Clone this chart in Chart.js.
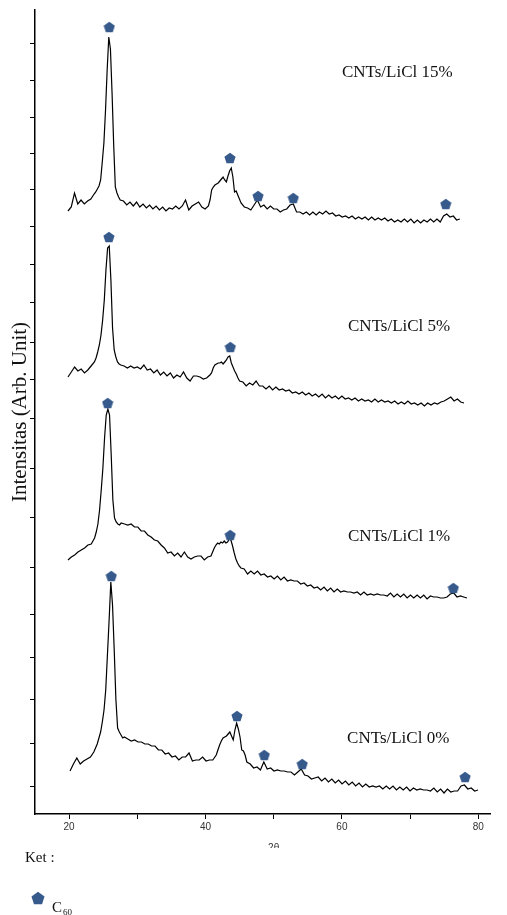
<!DOCTYPE html>
<html>
<head>
<meta charset="utf-8">
<script src="https://cdn.jsdelivr.net/npm/chart.js@4.4.1/dist/chart.umd.min.js"></script>
<style>
html,body{margin:0;padding:0;background:#fff;overflow:hidden}
canvas{display:block}
</style>
</head>
<body>
<canvas id="c" width="507" height="915"></canvas>
<script>
// ---------- DATA ----------
const twoTheta = [
  20,20.5,21,21.5,22,22.5,23,23.5,24,
  24.25,24.5,24.75,25,25.25,25.5,25.75,26,26.25,26.5,26.75,27,27.25,27.5,27.75,28,
  28.5,29,29.5,30,30.5,31,31.5,32,32.5,33,33.5,34,34.5,35,35.5,36,36.5,37,37.5,38,38.5,39,39.5,40,40.5,41,41.5,
  41.75,42,42.25,42.5,42.75,43,43.25,43.5,43.75,44,44.25,44.5,44.75,45,45.25,45.5,45.75,46,
  46.5,47,47.5,48,48.5,49,49.5,50,50.5,51,
  51.5,52,52.5,53,53.5,54,54.5,55,55.5,56,
  56.5,57,57.5,58,58.5,59,59.5,60,60.5,61,
  61.5,62,62.5,63,63.5,64,64.5,65,65.5,66,
  66.5,67,67.5,68,68.5,69,69.5,70,70.5,71,
  71.5,72,72.5,73,73.5,74,74.5,75,75.5,76,
  76.5,77,77.5,78,78.5,79,79.5,80
];

const intensity15 = [
  603,607,621,610,614,610,613,615,620,
  622,625,628,634,652,671,704,744,777,765,721,669,627,621,617,614,
  613,609,612,608,612,607,610,606,609,605,608,604,607,603,606,605,608,605,608,614,604,608,610,612,607,605,608,
  614,624,627,629,630,631,633,635,637,634,632,638,643,646,637,622,623,619,
  611,607,606,604,609,614,607,609,605,608,
  605,605,602,604,605,609,610,602,602,600,
  602,599,602,599,602,600,603,600,601,598,
  599,597,598,596,598,595,597,595,597,594,
  597,594,596,594,596,593,595,592,594,592,
  595,592,595,591,594,591,594,592,595,592,
  595,592,598,600,597,598,594,595
];

const intensity5 = [
  437,442,447,443,445,441,444,448,452,
  456,462,469,479,494,514,544,566,568,534,486,464,457,452,450,449,
  448,446,448,446,447,445,449,444,445,441,444,439,442,438,441,436,439,437,442,436,433,438,438,437,435,436,439,
  441,446,449,450,451,451,452,450,452,454,457,458,451,447,443,440,436,433,
  432,428,431,429,433,428,428,425,428,424,
  427,424,425,423,424,421,422,420,422,419,
  421,418,420,417,420,416,419,416,418,415,
  418,415,416,414,416,413,415,413,414,412,
  415,412,414,412,413,411,413,410,412,410,
  413,410,411,409,411,408,411,409,411,410,
  412,413,415,417,413,415,412,411
];

const intensity1 = [
  254,257,259,262,264,266,269,270,276,
  282,290,304,324,346,376,399,405,399,359,314,296,292,290,289,291,
  290,289,290,287,287,283,283,279,277,274,273,269,266,261,262,258,261,257,262,257,255,257,258,258,254,257,258,
  262,266,269,271,270,272,271,273,271,272,275,274,268,261,255,251,248,246,
  245,240,243,240,243,239,240,237,238,235,
  238,234,237,233,234,233,233,230,231,228,
  229,226,227,224,227,223,226,222,225,222,
  223,222,222,221,222,219,222,219,220,219,
  220,219,219,218,221,217,220,217,220,216,
  219,216,219,216,219,215,218,217,217,216,
  216,217,220,221,217,218,217,216
];

const intensity0 = [
  43,50,56,50,53,55,57,62,70,
  76,82,92,104,124,159,194,232,209,164,114,86,82,79,76,77,
  75,73,74,72,72,70,70,68,68,64,64,60,61,57,58,54,57,57,61,53,54,54,57,53,54,54,59,
  64,69,73,76,77,78,80,82,78,74,84,91,85,77,64,63,59,52,
  50,46,47,44,52,45,46,43,44,43,
  43,42,42,39,42,45,39,38,35,36,
  37,33,36,32,35,31,34,30,33,29,
  32,28,31,27,30,27,28,27,28,25,
  28,25,28,24,27,24,27,23,26,24,
  25,24,24,23,26,22,25,21,25,22,
  23,23,28,29,25,26,23,24
];

// C60 peak markers (2θ, intensity of marker)
const c60Theta15 = [26.32, 44.8, 49.1, 54.5, 77.85];
const c60Int15   = [787, 656, 618, 616, 610];
const c60Theta5  = [26.2, 44.6];
const c60Int5    = [577, 467];
const c60Theta1  = [25.97, 44.4, 77.95];
const c60Int1    = [411, 279, 226];
const c60Theta0  = [26.07, 44.55, 48.57, 54.15, 78.1];
const c60Int0    = [238, 98, 59, 50, 37];

const sampleNames = ['CNTs/LiCl 15%', 'CNTs/LiCl 5%', 'CNTs/LiCl 1%', 'CNTs/LiCl 0%'];
const xTickValues = [20, 30, 40, 50, 60, 70, 80];
const xTickLabels = [20, 40, 60, 80];
const yTickValues = [770, 734, 697, 661, 624, 588, 550, 512, 472, 434, 396, 346, 297, 247, 200, 157, 115, 71, 28];
const yTitle = 'Intensitas (Arb. Unit)';
const xTitle = '2θ';
const legendTitle = 'Ket :';
const legendName = ['C', '60'];

// ---------- RENDER ----------
const MARK = '#375a8c';
function pentagon(size, color) {
  const c = document.createElement('canvas');
  c.width = size; c.height = size;
  const g = c.getContext('2d');
  const r = size / 2, cx = size / 2, cy = size / 2 + size * 0.05;
  g.fillStyle = color;
  g.beginPath();
  for (let i = 0; i < 5; i++) {
    const a = -Math.PI / 2 + i * 2 * Math.PI / 5;
    const px = cx + r * 0.98 * Math.cos(a), py = cy + r * 0.98 * Math.sin(a);
    if (i === 0) g.moveTo(px, py); else g.lineTo(px, py);
  }
  g.closePath();
  g.fill();
  return c;
}
const markIcon = pentagon(12, MARK);
const legendIcon = pentagon(14, MARK);

const pts = (xs, ys) => xs.map((t, i) => ({ x: t, y: ys[i] }));
const lineDs = (label, vals, axis) => ({
  type: 'line', label, data: pts(twoTheta, vals), xAxisID: axis, yAxisID: 'y',
  borderColor: '#000', borderWidth: 1.2, pointRadius: 0, tension: 0, fill: false, order: 2
});
const markDs = (xs, ys, axis) => ({
  type: 'scatter', label: 'C60', data: pts(xs, ys), xAxisID: axis, yAxisID: 'y',
  pointStyle: markIcon, pointRadius: 6, showLine: false, order: 1
});
const hidden = (min, max) => ({ type: 'linear', display: false, min, max });

const annotations = {
  id: 'annotations',
  afterDraw(chart, args, opts) {
    const { ctx } = chart;
    const x = chart.scales.x, y = chart.scales.y;
    ctx.save();
    ctx.fillStyle = '#111';
    ctx.textAlign = 'left';
    ctx.textBaseline = 'middle';
    ctx.font = opts.labelFont;
    sampleNames.forEach((t, i) => {
      ctx.fillText(t, x.getPixelForValue(opts.labelAt[i][0]), y.getPixelForValue(opts.labelAt[i][1]));
    });
    // x axis title (clipped like the original)
    ctx.save();
    ctx.beginPath();
    ctx.rect(0, 0, chart.width, opts.xTitleClip);
    ctx.clip();
    ctx.fillStyle = '#333';
    ctx.font = opts.xTitleFont;
    ctx.textAlign = 'center';
    ctx.textBaseline = 'alphabetic';
    ctx.fillText(xTitle, x.getPixelForValue(opts.xTitleAt), opts.xTitleBaseline);
    ctx.restore();
    // legend
    ctx.fillStyle = '#111';
    ctx.textAlign = 'left';
    ctx.textBaseline = 'alphabetic';
    ctx.font = opts.legendFont;
    ctx.fillText(legendTitle, opts.legendX, opts.legendTitleY);
    ctx.drawImage(legendIcon, opts.iconX - legendIcon.width / 2, opts.iconY - legendIcon.height / 2);
    ctx.fillText(legendName[0], opts.nameX, opts.nameY);
    const w = ctx.measureText(legendName[0]).width;
    ctx.font = opts.subFont;
    ctx.fillText(legendName[1], opts.nameX + w + 1, opts.nameY + 3);
    ctx.restore();
  }
};

new Chart(document.getElementById('c'), {
  data: {
    datasets: [
      lineDs(sampleNames[0], intensity15, 'x15'),
      lineDs(sampleNames[1], intensity5, 'x5'),
      lineDs(sampleNames[2], intensity1, 'x1'),
      lineDs(sampleNames[3], intensity0, 'x0'),
      markDs(c60Theta15, c60Int15, 'x15'),
      markDs(c60Theta5, c60Int5, 'x5'),
      markDs(c60Theta1, c60Int1, 'x1'),
      markDs(c60Theta0, c60Int0, 'x0')
    ]
  },
  options: {
    responsive: false,
    animation: false,
    devicePixelRatio: 1,
    layout: { padding: { left: 0, right: 17, top: 10, bottom: 0 } },
    plugins: {
      legend: { display: false },
      tooltip: { enabled: false },
      annotations: {
        labelFont: '17px "Liberation Serif"',
        labelAt: [[60.0, 741], [60.9, 487], [60.9, 277], [60.76, 75]],
        xTitleFont: '10px "Liberation Sans"',
        xTitleAt: 50,
        xTitleBaseline: 851,
        xTitleClip: 848,
        legendFont: '15px "Liberation Serif"',
        subFont: '9px "Liberation Serif"',
        legendX: 25, legendTitleY: 862,
        iconX: 38, iconY: 898,
        nameX: 52, nameY: 912
      }
    },
    scales: {
      x: {
        type: 'linear', position: 'bottom', min: 15.0, max: 81.72,
        afterBuildTicks: s => { s.ticks = xTickValues.map(v => ({ value: v })); },
        afterFit: s => { s.height = 101; },
        ticks: {
          color: '#333', padding: 2, maxRotation: 0, autoSkip: false,
          font: { family: 'Liberation Sans', size: 10 },
          callback: v => xTickLabels.includes(v) ? String(v) : ''
        },
        grid: { drawOnChartArea: false, drawTicks: true, tickLength: 5, color: '#000', lineWidth: 1 },
        border: { display: true, color: '#000', width: 1.5 }
      },
      x15: hidden(14.95, 84.62),
      x5: hidden(15.0, 83.94),
      x1: hidden(15.04, 83.46),
      x0: hidden(14.85, 81.76),
      y: {
        type: 'linear', position: 'left', min: 0, max: 804,
        afterBuildTicks: s => { s.ticks = yTickValues.map(v => ({ value: v })); },
        afterFit: s => { s.width = 35; },
        ticks: { display: false },
        grid: { drawOnChartArea: false, drawTicks: true, tickLength: 5, color: '#000', lineWidth: 1 },
        border: { display: true, color: '#000', width: 1.5 },
        title: {
          display: true, text: yTitle, color: '#111',
          font: { family: 'Liberation Serif', size: 21, weight: 'normal' },
          padding: { top: 8, bottom: 0 }
        }
      }
    }
  },
  plugins: [annotations]
});
</script>
</body>
</html>
